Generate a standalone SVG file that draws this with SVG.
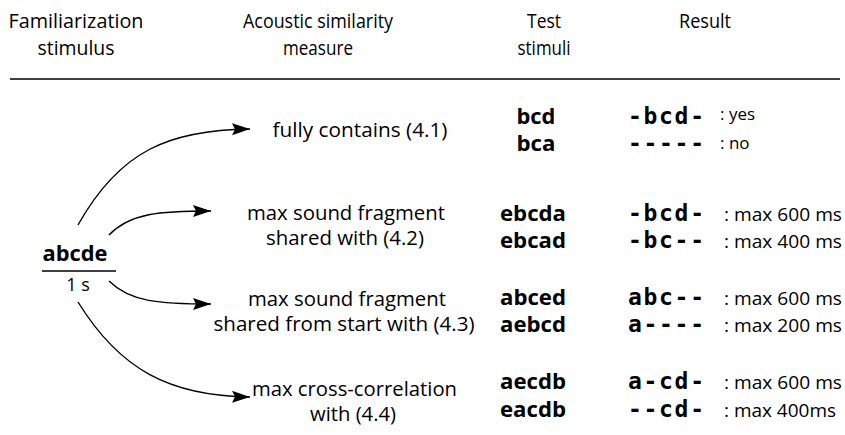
<svg xmlns="http://www.w3.org/2000/svg" width="845" height="435" viewBox="0 0 845 435">
<defs>
<style>
text{font-family:"Open Sans","Noto Sans","DejaVu Sans",sans-serif;fill:#000}
.h{font-size:20px;text-anchor:middle}
.m{font-size:20px;text-anchor:middle}
.b{font-size:21px;font-weight:bold;text-anchor:middle}
.mono{font-family:"DejaVu Sans Mono","Liberation Mono",monospace;font-size:23px;font-weight:bold}
.r{font-size:18px}
.s{font-size:17px}
.c{fill:none;stroke:#000;stroke-width:1.4}
</style>
<marker id="ah" markerUnits="userSpaceOnUse" markerWidth="20" markerHeight="14" refX="18" refY="6" orient="auto">
<path d="M0,0 L18,6 L0,12 L3,6 Z" fill="#000"/>
</marker>
</defs>
<g id="header">
<text class="h" x="76" y="28" textLength="135" lengthAdjust="spacingAndGlyphs">Familiarization</text>
<text class="h" x="76" y="55" textLength="77" lengthAdjust="spacingAndGlyphs">stimulus</text>
<text class="h" x="318" y="28" textLength="150" lengthAdjust="spacingAndGlyphs">Acoustic similarity</text>
<text class="h" x="318" y="55" textLength="70" lengthAdjust="spacingAndGlyphs">measure</text>
<text class="h" x="544" y="28" textLength="34" lengthAdjust="spacingAndGlyphs">Test</text>
<text class="h" x="544" y="55" textLength="53" lengthAdjust="spacingAndGlyphs">stimuli</text>
<text class="h" x="705" y="28" textLength="52" lengthAdjust="spacingAndGlyphs">Result</text>
<line x1="10" y1="79" x2="840" y2="79" stroke="#000" stroke-width="1.5"/>
</g>
<g id="source">
<text class="b" x="75" y="261" textLength="65" lengthAdjust="spacingAndGlyphs">abcde</text>
<line x1="42" y1="271" x2="116" y2="271" stroke="#000" stroke-width="1.5"/>
<text class="m" x="78" y="291" style="font-size:18px">1 s</text>
</g>
<g id="connectors">
<path class="c" d="M78,225 C120,150 170,130 250,129" marker-end="url(#ah)"/>
<path class="c" d="M109,235 C130,213 160,211 211,211" marker-end="url(#ah)"/>
<path class="c" d="M109,281 C130,302 160,304 211,304" marker-end="url(#ah)"/>
<path class="c" d="M78,302 C120,370 170,396 250,397" marker-end="url(#ah)"/>
</g>
<g id="measure1">
<text class="m" x="360" y="137" textLength="175" lengthAdjust="spacingAndGlyphs">fully contains (4.1)</text>
<text class="b" x="536" y="124" textLength="39" lengthAdjust="spacingAndGlyphs">bcd</text>
<text class="b" x="536" y="151" textLength="39" lengthAdjust="spacingAndGlyphs">bca</text>
<text class="mono" x="628" y="124" textLength="76" lengthAdjust="spacing">-bcd-</text>
<text class="mono" x="628" y="151" textLength="76" lengthAdjust="spacing">-----</text>
<text class="s" x="720" y="120">: yes</text>
<text class="s" x="720" y="149">: no</text>
</g>
<g id="measure2">
<text class="m" x="346" y="220" textLength="198" lengthAdjust="spacingAndGlyphs">max sound fragment</text>
<text class="m" x="345" y="245" textLength="158" lengthAdjust="spacingAndGlyphs">shared with (4.2)</text>
<text class="b" x="533" y="221" textLength="66" lengthAdjust="spacingAndGlyphs">ebcda</text>
<text class="b" x="533" y="248" textLength="66" lengthAdjust="spacingAndGlyphs">ebcad</text>
<text class="mono" x="628" y="221" textLength="76" lengthAdjust="spacing">-bcd-</text>
<text class="mono" x="628" y="248" textLength="76" lengthAdjust="spacing">-bc--</text>
<text class="r" x="724" y="221" textLength="118" lengthAdjust="spacingAndGlyphs">: max 600 ms</text>
<text class="r" x="724" y="248" textLength="118" lengthAdjust="spacingAndGlyphs">: max 400 ms</text>
</g>
<g id="measure3">
<text class="m" x="347" y="306" textLength="198" lengthAdjust="spacingAndGlyphs">max sound fragment</text>
<text class="m" x="344" y="331" textLength="261" lengthAdjust="spacingAndGlyphs">shared from start with (4.3)</text>
<text class="b" x="533" y="305" textLength="66" lengthAdjust="spacingAndGlyphs">abced</text>
<text class="b" x="533" y="332" textLength="66" lengthAdjust="spacingAndGlyphs">aebcd</text>
<text class="mono" x="628" y="305" textLength="76" lengthAdjust="spacing">abc--</text>
<text class="mono" x="628" y="332" textLength="76" lengthAdjust="spacing">a----</text>
<text class="r" x="724" y="305" textLength="118" lengthAdjust="spacingAndGlyphs">: max 600 ms</text>
<text class="r" x="724" y="332" textLength="118" lengthAdjust="spacingAndGlyphs">: max 200 ms</text>
</g>
<g id="measure4">
<text class="m" x="252" y="396" style="text-anchor:start" textLength="205" lengthAdjust="spacingAndGlyphs">max cross-correlation</text>
<text class="m" x="353" y="421" textLength="86" lengthAdjust="spacingAndGlyphs">with (4.4)</text>
<text class="b" x="533" y="389" textLength="66" lengthAdjust="spacingAndGlyphs">aecdb</text>
<text class="b" x="533" y="417" textLength="66" lengthAdjust="spacingAndGlyphs">eacdb</text>
<text class="mono" x="628" y="389" textLength="76" lengthAdjust="spacing">a-cd-</text>
<text class="mono" x="628" y="417" textLength="76" lengthAdjust="spacing">--cd-</text>
<text class="r" x="724" y="389" textLength="118" lengthAdjust="spacingAndGlyphs">: max 600 ms</text>
<text class="r" x="724" y="417" textLength="112" lengthAdjust="spacingAndGlyphs">: max 400ms</text>
</g>
</svg>
